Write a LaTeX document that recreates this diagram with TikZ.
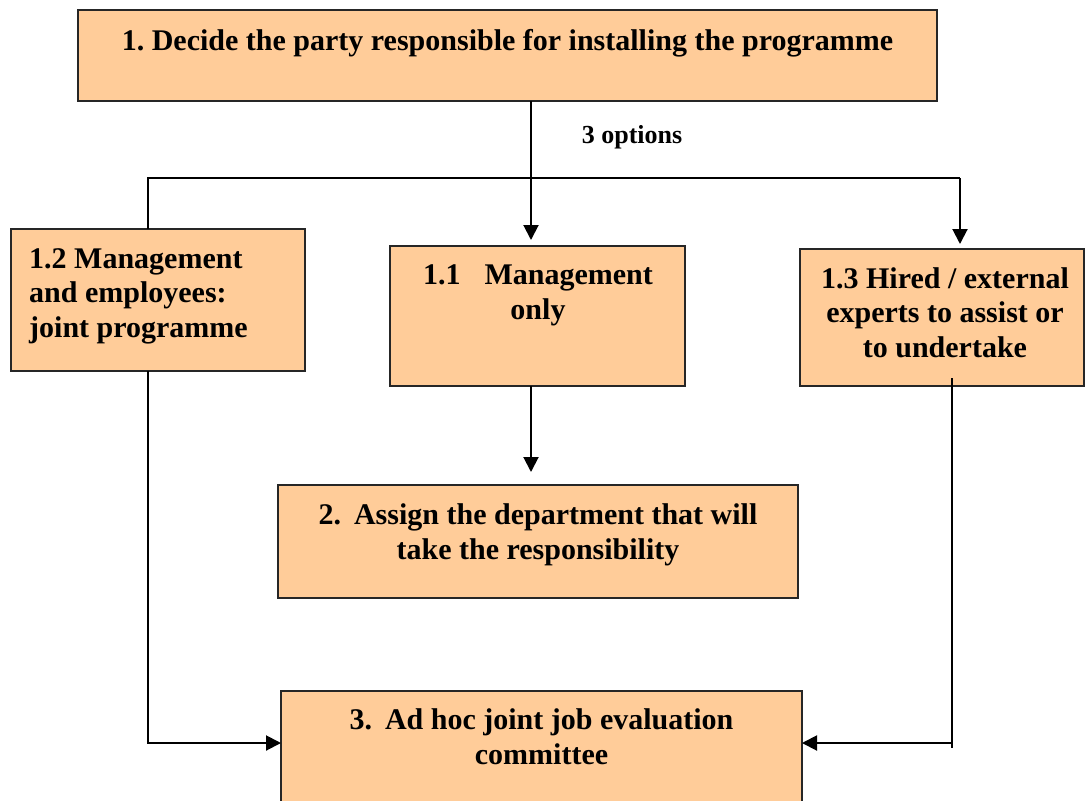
\documentclass[tikz,border=0pt]{standalone}
\usepackage{fontspec}
\setmainfont{Liberation Serif}
\usetikzlibrary{arrows.meta,calc}
\definecolor{peach}{RGB}{255,204,153}
\frenchspacing
\begin{document}
\begin{tikzpicture}[x=1pt,y=-1pt,
  box/.style={draw=black!85, line width=1.2pt, fill=peach, inner sep=0pt, outer sep=0pt, anchor=north west},
  txt/.style={font=\bfseries\fontsize{30}{34.5}\selectfont, inner sep=0pt, anchor=base, align=center},
  conn/.style={line width=2pt},
  arr/.style={conn, -{Triangle[length=15pt,width=15pt]}}]
\useasboundingbox (0,0) rectangle (1085,801);
% boxes
\node[box, minimum width=859pt, minimum height=91pt] (b1) at (78,10) {};
\node[box, minimum width=294pt, minimum height=142pt] (b12) at (11,229) {};
\node[box, minimum width=295pt, minimum height=140pt] (b11) at (390,246) {};
\node[box, minimum width=284pt, minimum height=137pt] (b13) at (800,249) {};
\node[box, minimum width=520pt, minimum height=113pt] (b2) at (278,485) {};
\node[box, minimum width=521pt, minimum height=125pt] (b3) at (281,691) {};
% texts (anchor base = baseline of last line)
\node[txt] (t1) at (507.5,50) {1. Decide the party responsible for installing the programme};
\node[txt, font=\bfseries\fontsize{26}{30}\selectfont] (t0) at (632,143) {3 options};
\node[txt, anchor=base west, align=left] (t12) at (29,337) {1.2 Management\\and employees:\\joint programme};
\node[txt] (t11) at (538,319) {1.1\hspace{24pt}Management\\only};
\node[txt] (t13) at (945,357) {1.3 Hired / external\\experts to assist or\\to undertake};
\node[txt] (t2) at (538,559) {2.\hspace{13pt}Assign the department that will\\take the responsibility};
\node[txt] (t3) at (541.5,764) {3.\hspace{13pt}Ad hoc joint job evaluation\\committee};
% junction coordinates
\coordinate (j) at (531,178);
\coordinate (tl) at (148,178);
\coordinate (tr) at (960,178);
\coordinate (bl) at (148,743);
\coordinate (br) at (952,743);
% connectors
\draw[conn] (b1.south -| j) -- (j);
\draw[arr, shorten >=6pt] (j) -- (j |- b11.north);
\draw[conn] (b12.north -| tl) -- (tl) -- (tr);
\draw[arr, shorten >=5pt] (tr) -- (tr |- b13.north);
\draw[arr, shorten >=13pt] (b11.south -| j) -- (b2.north -| j);
\draw[arr] (b12.south -| bl) -- (bl) -- (bl -| b3.west);
\draw[conn] ([yshift=8pt]b13.south -| br) -- ([yshift=-5pt]br);
\draw[arr] (br) -- (br -| b3.east);
\end{tikzpicture}
\end{document}
